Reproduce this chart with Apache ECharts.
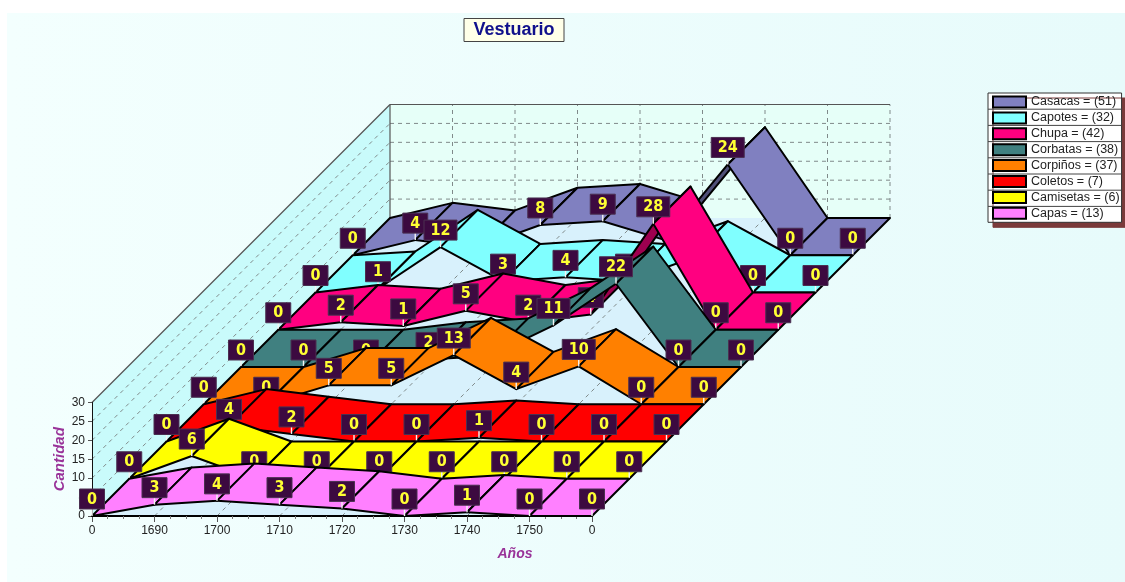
<!DOCTYPE html>
<html>
<head>
<meta charset="utf-8">
<title>Vestuario</title>
<script src="https://cdn.jsdelivr.net/npm/echarts@6/dist/echarts.min.js"></script>
<style>
  html, body { margin: 0; padding: 0; background: #fff; }
  #chart { width: 1125px; height: 582px; }
</style>
</head>
<body>
<div id="chart"></div>
<script>
// Garment counts per decade, one ribbon per garment, back row first.
const tickLabels = ['0', '1690', '1700', '1710', '1720', '1730', '1740', '1750', '0'];
const casacas   = [0, 4, 2, 8, 9, 4, 24, 0, 0];
const capotes   = [0, 1, 12, 3, 4, 3, 9, 0, 0];
const chupa     = [0, 2, 1, 5, 2, 4, 28, 0, 0];
const corbatas  = [0, 0, 0, 2, 3, 11, 22, 0, 0];
const corpinos  = [0, 0, 5, 5, 13, 4, 10, 0, 0];
const coletos   = [0, 4, 2, 0, 0, 1, 0, 0, 0];
const camisetas = [0, 6, 0, 0, 0, 0, 0, 0, 0];
const capas     = [0, 3, 4, 3, 2, 0, 1, 0, 0];

const garmentNames = ['Casacas', 'Capotes', 'Chupa', 'Corbatas', 'Corpiños', 'Coletos', 'Camisetas', 'Capas'];
const garmentValues = [casacas, capotes, chupa, corbatas, corpinos, coletos, camisetas, capas];
const garmentColors = ['#8080c0', '#80ffff', '#ff0080', '#408080', '#ff8000', '#ff0000', '#ffff00', '#ff80ff'];

// Oblique projection: one row of depth shifts a point this far right and up.
const DEPTH_STEP = 37.25;
const ROWS = garmentNames.length;
const X_MAX = tickLabels.length - 1;
const Y_MAX = 30;
const Y_STEP = 5;

const chart = echarts.init(document.getElementById('chart'));

function project(api, x, v, depth) {
  const p = api.coord([x, v]);
  return [p[0] + depth * DEPTH_STEP, p[1] - depth * DEPTH_STEP];
}

function darken(hex, f) {
  const n = parseInt(hex.slice(1), 16);
  const c = [n >> 16, (n >> 8) & 255, n & 255].map(ch => Math.round(ch * f));
  return 'rgb(' + c.join(',') + ')';
}

function dashed(a, b) {
  return {
    type: 'line',
    shape: { x1: a[0], y1: a[1], x2: b[0], y2: b[1] },
    style: { stroke: '#808a8a', lineWidth: 1, lineDash: [4, 4] }
  };
}

// Floor, side wall and back wall with their dashed grid.
function renderRoom(params, api) {
  const P = (x, v, d) => project(api, x, v, d);
  const children = [
    { type: 'polygon', shape: { points: [P(0, 0, 0), P(X_MAX, 0, 0), P(X_MAX, 0, ROWS), P(0, 0, ROWS)] },
      style: { fill: '#d8f1fc' } },
    { type: 'polygon', shape: { points: [P(0, 0, 0), P(0, Y_MAX, 0), P(0, Y_MAX, ROWS), P(0, 0, ROWS)] },
      style: { fill: '#c9fbfb' } },
    { type: 'polygon', shape: { points: [P(0, 0, ROWS), P(0, Y_MAX, ROWS), P(X_MAX, Y_MAX, ROWS), P(X_MAX, 0, ROWS)] },
      style: { fill: '#e6fff8' } }
  ];
  for (let x = 1; x < X_MAX; x++) {
    children.push(dashed(P(x, 0, 0), P(x, 0, ROWS)));
    children.push(dashed(P(x, 0, ROWS), P(x, Y_MAX, ROWS)));
  }
  children.push(dashed(P(X_MAX, 0, ROWS), P(X_MAX, Y_MAX, ROWS)));
  for (let v = Y_STEP; v < Y_MAX; v += Y_STEP) {
    children.push(dashed(P(0, v, 0), P(0, v, ROWS)));
    children.push(dashed(P(0, v, ROWS), P(X_MAX, v, ROWS)));
  }
  const edge = { stroke: '#555', lineWidth: 1.2 };
  const line = (a, b) => ({ type: 'line', shape: { x1: a[0], y1: a[1], x2: b[0], y2: b[1] }, style: edge });
  children.push(line(P(0, 0, ROWS), P(0, Y_MAX, ROWS)));
  children.push(line(P(0, Y_MAX, ROWS), P(X_MAX, Y_MAX, ROWS)));
  children.push(line(P(0, Y_MAX, 0), P(0, Y_MAX, ROWS)));
  return { type: 'group', children };
}

// One ribbon segment per point, drawn left to right, with its flag on top of the row.
function ribbonRenderer(row) {
  const values = garmentValues[row];
  const color = garmentColors[row];
  const depth = ROWS - 1 - row;
  return function (params, api) {
    const i = params.dataIndex;
    const v = api.value(1);
    const children = [];
    const front = project(api, i, v, depth);
    if (i < values.length - 1) {
      const next = values[i + 1];
      const frontNext = project(api, i + 1, next, depth);
      const backNext = project(api, i + 1, next, depth + 1);
      const back = project(api, i, v, depth + 1);
      const ex = frontNext[0] - front[0];
      const ey = frontNext[1] - front[1];
      const underside = ex * -DEPTH_STEP - ey * DEPTH_STEP > 0;
      children.push({
        type: 'polygon',
        z2: i,
        shape: { points: [front, frontNext, backNext, back] },
        style: {
          fill: underside ? darken(color, 0.62) : color,
          stroke: '#000',
          lineWidth: 2,
          lineJoin: 'round'
        }
      });
    }
    const text = String(v);
    const w = text.length > 1 ? 33 : 25;
    const h = 20;
    const bottom = front[1] - 7;
    children.push({
      type: 'line',
      z2: 100 + i,
      shape: { x1: front[0], y1: bottom, x2: front[0], y2: front[1] },
      style: { stroke: '#f4f4f4', lineWidth: 1.4 }
    });
    children.push({
      type: 'rect',
      z2: 101 + i,
      shape: { x: front[0] - w / 2, y: bottom - h, width: w, height: h },
      style: { fill: '#3c0a40', stroke: '#4a3050', lineWidth: 1 }
    });
    children.push({
      type: 'text',
      z2: 102 + i,
      style: {
        text,
        x: front[0],
        y: bottom - h / 2 + 0.5,
        align: 'center',
        verticalAlign: 'middle',
        fill: '#ffff33',
        font: 'bold 16px "Liberation Sans Narrow", "DejaVu Sans Condensed", "Liberation Sans", sans-serif'
      }
    });
    return { type: 'group', children };
  };
}

const legendNames = garmentNames.map((n, k) =>
  n + ' = (' + garmentValues[k].reduce((a, b) => a + b, 0) + ')');

const LEGEND_TOP = 93;
const LEGEND_ROW = 16.2;
const rowRules = garmentNames.slice(1).map((n, k) => ({
  type: 'line',
  z: 200,
  silent: true,
  shape: { x1: 988, y1: LEGEND_TOP + (k + 1) * LEGEND_ROW, x2: 1122, y2: LEGEND_TOP + (k + 1) * LEGEND_ROW },
  style: { stroke: '#444', lineWidth: 1 }
}));

const axisFont = { fontFamily: '"Liberation Sans", Arial, sans-serif', fontSize: 12, color: '#222' };
const nameFont = { fontFamily: '"Liberation Sans", Arial, sans-serif', fontSize: 14, fontWeight: 'bold', fontStyle: 'italic', color: '#993399' };

chart.setOption({
  animation: false,
  backgroundColor: '#ffffff',
  title: {
    text: 'Vestuario',
    left: 464,
    top: 18,
    padding: [3, 9.5, 3, 9.5],
    backgroundColor: '#ffffe8',
    borderColor: '#444',
    borderWidth: 1,
    textStyle: { color: '#10108c', fontSize: 18, fontWeight: 'bold', fontFamily: '"Liberation Sans", Arial, sans-serif' }
  },
  legend: {
    orient: 'vertical',
    left: 988,
    top: LEGEND_TOP,
    padding: [2.5, 2, 2.5, 4],
    icon: 'rect',
    itemWidth: 33,
    itemHeight: 11,
    itemGap: 2.9,
    selectedMode: false,
    data: legendNames,
    backgroundColor: '#ffffff',
    borderColor: '#333',
    borderWidth: 1,
    shadowColor: '#7a3a3a',
    shadowOffsetX: 5,
    shadowOffsetY: 5,
    shadowBlur: 0,
    itemStyle: { borderColor: '#000', borderWidth: 2 },
    textStyle: { fontFamily: '"Liberation Sans", Arial, sans-serif', fontSize: 12.5, color: '#222', width: 90 }
  },
  grid: { left: 92, top: 402.5, width: 500, height: 113.5, containLabel: false },
  xAxis: {
    type: 'value',
    min: 0,
    max: X_MAX,
    interval: 1,
    z: 6,
    name: 'Años',
    nameLocation: 'middle',
    nameGap: 31,
    nameTextStyle: Object.assign({ padding: [0, 0, 0, 346] }, nameFont),
    axisLine: { lineStyle: { color: '#000', width: 2 } },
    axisTick: { show: true, length: 6, lineStyle: { color: '#555' } },
    minorTick: { show: true, splitNumber: 4, length: 3, lineStyle: { color: '#777' } },
    splitLine: { show: false },
    axisLabel: Object.assign({ margin: 9, formatter: v => tickLabels[v] }, axisFont)
  },
  yAxis: {
    type: 'value',
    min: 0,
    max: Y_MAX,
    interval: Y_STEP,
    z: 6,
    name: 'Cantidad',
    nameLocation: 'middle',
    nameRotate: 90,
    nameGap: 22,
    nameTextStyle: Object.assign({}, nameFont, { fontSize: 15 }),
    axisLine: { show: true, lineStyle: { color: '#111', width: 1 } },
    axisTick: { show: true, length: 4, lineStyle: { color: '#555' } },
    splitLine: { show: false },
    axisLabel: Object.assign({ margin: 7 }, axisFont)
  },
  graphic: [
    { type: 'rect', z: -10, silent: true, shape: { x: 7, y: 13, width: 1118, height: 569 },
      style: { fill: { type: 'linear', x: 0, y: 0, x2: 1, y2: 0,
        colorStops: [{ offset: 0, color: '#f3fffe' }, { offset: 1, color: '#e7fbfb' }] } } }
  ].concat(rowRules),
  series: [
    {
      type: 'custom',
      name: 'room',
      z: 1,
      silent: true,
      clip: false,
      renderItem: renderRoom,
      encode: { x: 0, y: 1 },
      data: [[0, 0]]
    }
  ].concat(garmentNames.map((n, row) => ({
    type: 'custom',
    name: legendNames[row],
    z: 10 + row,
    silent: true,
    clip: false,
    itemStyle: { color: garmentColors[row] },
    renderItem: ribbonRenderer(row),
    encode: { x: 0, y: 1 },
    data: garmentValues[row].map((v, i) => [i, v])
  })))
});
</script>
</body>
</html>
